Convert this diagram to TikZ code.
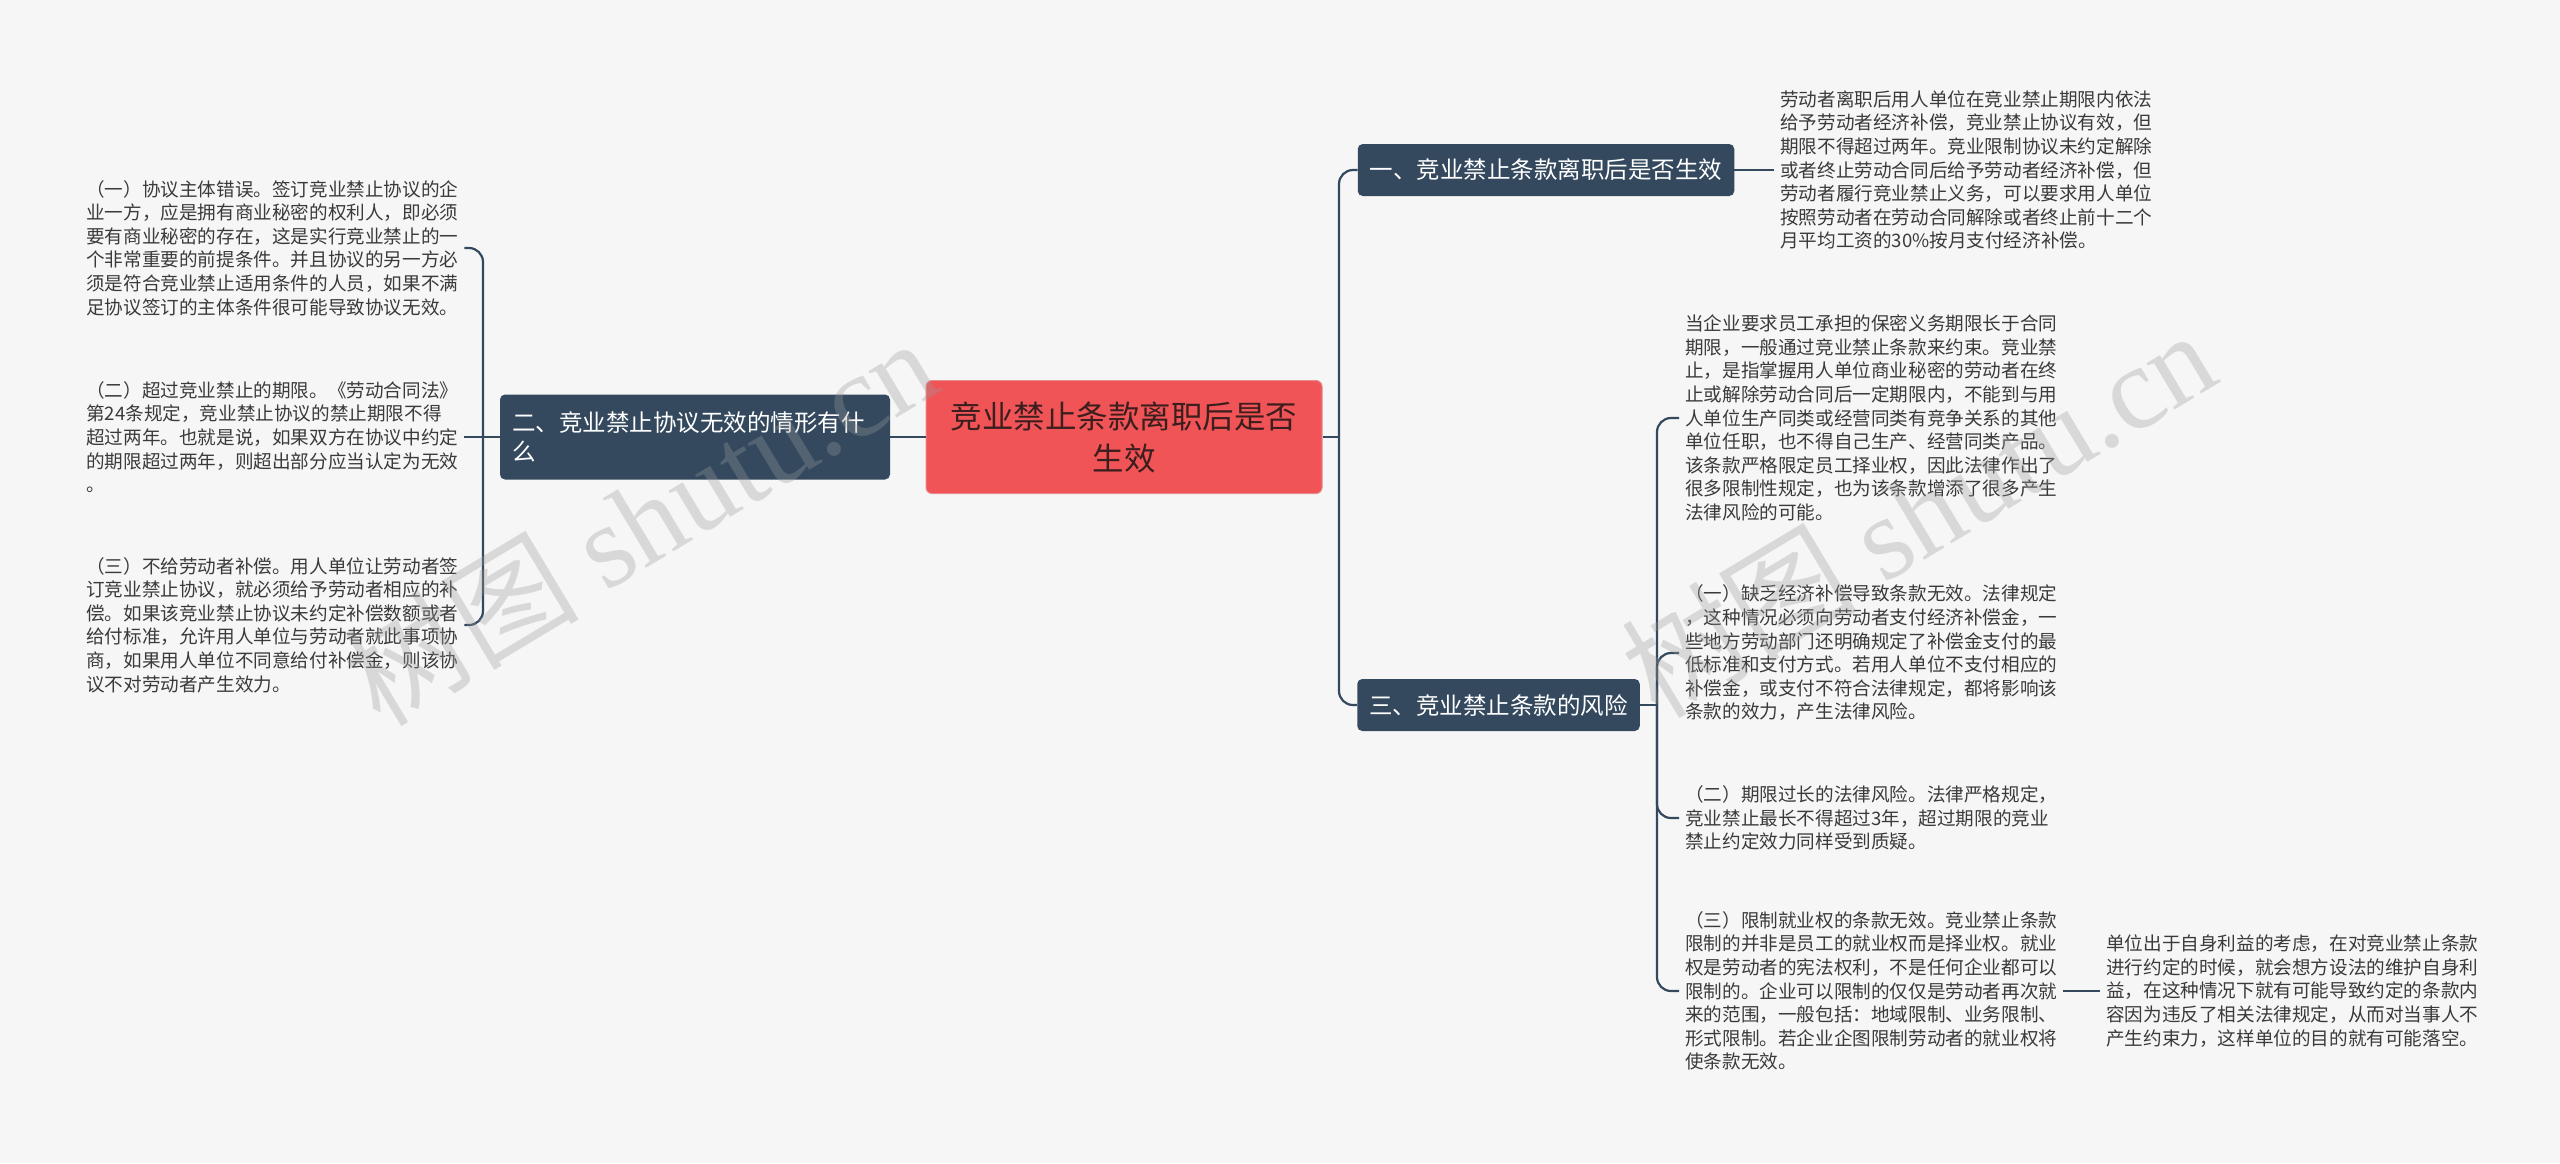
\documentclass[tikz,border=0pt]{standalone}
\usepackage{fontspec}
\setmainfont{Noto Sans CJK SC}
\newfontfamily\wmlatin{Liberation Serif}
\definecolor{bg}{HTML}{F6F6F6}
\definecolor{dark}{HTML}{34495E}
\definecolor{rootred}{HTML}{F05456}
\definecolor{rootline}{HTML}{E8898A}
\definecolor{txt}{HTML}{3A3A3A}
\definecolor{wm}{HTML}{9A9A9A}
\tikzset{
  conn/.style={draw=dark, line width=2.2pt},
  elbow/.style={conn, rounded corners=14pt},
  topic/.style={fill=dark, text=white, rounded corners=5pt,
    font=\fontsize{23.5}{29}\selectfont, inner xsep=12pt, inner ysep=0pt,
    minimum height=52pt, align=left},
  rootbox/.style={fill=rootred, draw=rootline, line width=1pt, rounded corners=6pt,
    text={rgb,255:red,60;green,30;blue,30}, font=\fontsize{31.5}{42}\selectfont,
    align=center, text width=360pt, minimum width=396pt, minimum height=113pt},
  leaf/.style={text=txt, font=\fontsize{18.6}{23.6}\selectfont, align=left,
    inner xsep=6pt, inner ysep=3pt},
  watermark/.style={text=wm, opacity=0.32, rotate=31, font=\fontsize{118}{120}\selectfont}
}
\begin{document}
\begin{tikzpicture}[x=1pt, y=-1pt]
\useasboundingbox (0,0) rectangle (2560,1163);
\fill[bg] (0,0) rectangle (2560,1163);

% central node and topics
\node[rootbox] (root) at (1124,437) {竞业禁止条款离职后是否\\生效};
\node[topic, text width=366pt, minimum height=85pt] (n2) at (695,437) {二、竞业禁止协议无效的情形有什\\么};
\node[topic] (n1) at (1546,170) {一、竞业禁止条款离职后是否生效};
\node[topic] (n3) at (1498.5,705) {三、竞业禁止条款的风险};

% junctions
\coordinate (j1) at (1339,437);
\coordinate (j2) at (483,437);
\coordinate (j3) at (1657,705);

% left leaves
\node[leaf, anchor=west] (L1) at (80,248) {（一）协议主体错误。签订竞业禁止协议的企\\业一方，应是拥有商业秘密的权利人，即必须\\要有商业秘密的存在，这是实行竞业禁止的一\\个非常重要的前提条件。并且协议的另一方必\\须是符合竞业禁止适用条件的人员，如果不满\\足协议签订的主体条件很可能导致协议无效。};
\node[leaf, anchor=west] (L2) at (80,437) {（二）超过竞业禁止的期限。《劳动合同法》\\第24条规定，竞业禁止协议的禁止期限不得\\超过两年。也就是说，如果双方在协议中约定\\的期限超过两年，则超出部分应当认定为无效\\。};
\node[leaf, anchor=west] (L3) at (80,625) {（三）不给劳动者补偿。用人单位让劳动者签\\订竞业禁止协议，就必须给予劳动者相应的补\\偿。如果该竞业禁止协议未约定补偿数额或者\\给付标准，允许用人单位与劳动者就此事项协\\商，如果用人单位不同意给付补偿金，则该协\\议不对劳动者产生效力。};

% right leaves
\node[leaf, anchor=west] (R1) at (1774,170) {劳动者离职后用人单位在竞业禁止期限内依法\\给予劳动者经济补偿，竞业禁止协议有效，但\\期限不得超过两年。竞业限制协议未约定解除\\或者终止劳动合同后给予劳动者经济补偿，但\\劳动者履行竞业禁止义务，可以要求用人单位\\按照劳动者在劳动合同解除或者终止前十二个\\月平均工资的30\%按月支付经济补偿。};
\node[leaf, anchor=west] (RA) at (1679,418) {当企业要求员工承担的保密义务期限长于合同\\期限，一般通过竞业禁止条款来约束。竞业禁\\止，是指掌握用人单位商业秘密的劳动者在终\\止或解除劳动合同后一定期限内，不能到与用\\人单位生产同类或经营同类有竞争关系的其他\\单位任职，也不得自己生产、经营同类产品。\\该条款严格限定员工择业权，因此法律作出了\\很多限制性规定，也为该条款增添了很多产生\\法律风险的可能。};
\node[leaf, anchor=west] (RB) at (1679,653) {（一）缺乏经济补偿导致条款无效。法律规定\\，这种情况必须向劳动者支付经济补偿金，一\\些地方劳动部门还明确规定了补偿金支付的最\\低标准和支付方式。若用人单位不支付相应的\\补偿金，或支付不符合法律规定，都将影响该\\条款的效力，产生法律风险。};
\node[leaf, anchor=west] (RC) at (1679,818) {（二）期限过长的法律风险。法律严格规定，\\竞业禁止最长不得超过3年，超过期限的竞业\\禁止约定效力同样受到质疑。};
\node[leaf, anchor=west] (RD) at (1679,991) {（三）限制就业权的条款无效。竞业禁止条款\\限制的并非是员工的就业权而是择业权。就业\\权是劳动者的宪法权利，不是任何企业都可以\\限制的。企业可以限制的仅仅是劳动者再次就\\来的范围，一般包括：地域限制、业务限制、\\形式限制。若企业企图限制劳动者的就业权将\\使条款无效。};
\node[leaf, anchor=west] (RE) at (2100,991) {单位出于自身利益的考虑，在对竞业禁止条款\\进行约定的时候，就会想方设法的维护自身利\\益，在这种情况下就有可能导致约定的条款内\\容因为违反了相关法律规定，从而对当事人不\\产生约束力，这样单位的目的就有可能落空。};

% connectors
\draw[conn] (root.west) -- (n2.east);
\draw[conn] (root.east) -- (j1);
\draw[elbow] (n1.west) -| (j1);
\draw[elbow] (n3.west) -| (j1);
\draw[conn] (n2.west) -- (j2);
\draw[elbow] (L1.east) -| (j2);
\draw[conn] (L2.east) -- (j2);
\draw[elbow] (L3.east) -| (j2);
\draw[conn] (n1.east) -- (R1.west);
\draw[conn] (n3.east) -- (j3);
\draw[elbow] (RA.west) -| (j3);
\draw[elbow] (RB.west) -| (j3);
\draw[elbow] (RC.west) -| (j3);
\draw[elbow] (RD.west) -| (j3);
\draw[conn] (RD.east) -- (RE.west);

% watermarks
\node[watermark] (wm1) at (640,520) {树图 {\wmlatin shutu.cn}};
\node[watermark] (wm2) at (1918,512) {树图 {\wmlatin shutu.cn}};
\end{tikzpicture}
\end{document}
